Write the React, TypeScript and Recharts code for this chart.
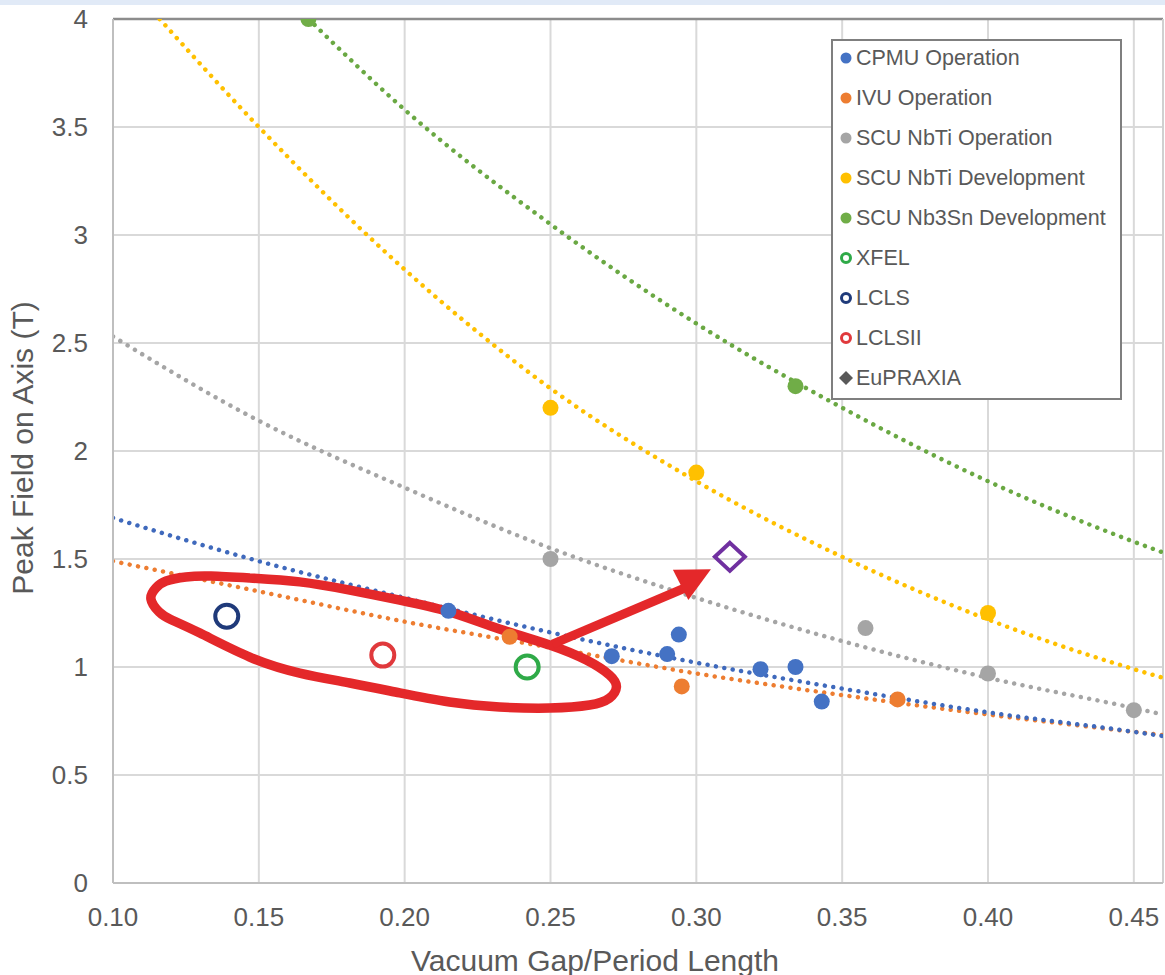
import {
  ComposedChart, Line, Scatter, XAxis, YAxis, CartesianGrid,
  ReferenceLine, ReferenceDot, Legend, Label,
} from 'recharts';

const FONT = '"Liberation Sans", Arial, Helvetica, sans-serif';
const TEXT = '#595959';
const RED = '#E4282A';

const xTicks = [0.1, 0.15, 0.2, 0.25, 0.3, 0.35, 0.4, 0.45];
const yTicks = [0, 0.5, 1, 1.5, 2, 2.5, 3, 3.5, 4];

// measured points
const cpmuPoints = [
  { x: 0.215, y: 1.26 }, { x: 0.271, y: 1.05 }, { x: 0.29, y: 1.06 },
  { x: 0.294, y: 1.15 }, { x: 0.322, y: 0.99 }, { x: 0.334, y: 1.0 },
  { x: 0.343, y: 0.84 },
];
const ivuPoints = [{ x: 0.236, y: 1.14 }, { x: 0.295, y: 0.91 }, { x: 0.369, y: 0.85 }];
const nbtiOpPoints = [{ x: 0.25, y: 1.5 }, { x: 0.358, y: 1.18 }, { x: 0.4, y: 0.97 }, { x: 0.45, y: 0.8 }];
const nbtiDevPoints = [{ x: 0.25, y: 2.2 }, { x: 0.3, y: 1.9 }, { x: 0.4, y: 1.25 }];
const nb3snPoints = [{ x: 0.167, y: 4.0 }, { x: 0.334, y: 2.3 }];
const xfelPoints = [{ x: 0.242, y: 1.0 }];
const lclsPoints = [{ x: 0.139, y: 1.235 }];
const lcls2Points = [{ x: 0.1925, y: 1.055 }];
const eupraxiaPoints = [{ x: 0.3115, y: 1.51 }];

// trendlines
const trendX = [0.1, 0.15, 0.2, 0.25, 0.3, 0.35, 0.4, 0.45, 0.46];
const cpmuTrend = [1.69, 1.49, 1.32, 1.16, 1.02, 0.9, 0.79, 0.7, 0.68];
const ivuTrend = [1.49, 1.35, 1.21, 1.09, 0.97, 0.87, 0.78, 0.7, 0.685];
const nbtiOpTrend = [2.53, 2.14, 1.83, 1.55, 1.32, 1.12, 0.95, 0.81, 0.78];
const nbtiDevX = [0.116, 0.15, 0.2, 0.25, 0.3, 0.35, 0.4, 0.45, 0.46];
const nbtiDevTrend = [4.0, 3.5, 2.84, 2.29, 1.86, 1.51, 1.22, 0.99, 0.95];
const nb3snX = [0.167, 0.2, 0.25, 0.3, 0.35, 0.4, 0.45, 0.46];
const nb3snTrend = [4.0, 3.58, 3.05, 2.59, 2.2, 1.86, 1.58, 1.53];

// hand-drawn annotation
const loopX = [0.1469, 0.164, 0.1812, 0.1983, 0.2154, 0.2325, 0.2497, 0.2623, 0.2702, 0.2726, 0.2702, 0.2634,
  0.2497, 0.2325, 0.2154, 0.1983, 0.1812, 0.164, 0.1469, 0.1298, 0.1198, 0.1158, 0.1130, 0.1147, 0.1182, 0.1250, 0.1336, 0.1469];
const loopY = [1.412, 1.394, 1.356, 1.31, 1.255, 1.176, 1.102, 1.032, 0.963, 0.907, 0.856, 0.824,
  0.81, 0.815, 0.838, 0.88, 0.926, 0.972, 1.046, 1.157, 1.22, 1.255, 1.315, 1.366, 1.398, 1.417, 1.421, 1.412];
const arrowShaft = [{ x: 0.2507, y: 1.106 }, { x: 0.2965, y: 1.368 }];
const arrowTip = { x: 0.3050, y: 1.452 };

const legendItems = [
  { name: 'CPMU Operation', color: '#4472C4', kind: 'dot' },
  { name: 'IVU Operation', color: '#ED7D31', kind: 'dot' },
  { name: 'SCU NbTi Operation', color: '#A5A5A5', kind: 'dot' },
  { name: 'SCU NbTi Development', color: '#FFC000', kind: 'dot' },
  { name: 'SCU Nb3Sn Development', color: '#70AD47', kind: 'dot' },
  { name: 'XFEL', color: '#2FAA48', kind: 'ring' },
  { name: 'LCLS', color: '#1F3A7A', kind: 'ring' },
  { name: 'LCLSII', color: '#E0393C', kind: 'ring' },
  { name: 'EuPRAXIA', color: '#595959', kind: 'diamond' },
];

const toPts = (xs: number[], ys: number[]) => xs.map((x, i) => ({ x, y: ys[i] }));

const dotShape = (color: string) => (p: any) => <circle cx={p.cx} cy={p.cy} r={8} fill={color} />;
const ringShape = (color: string) => (p: any) => (
  <circle cx={p.cx} cy={p.cy} r={11.5} fill="none" stroke={color} strokeWidth={4} />
);
const diamondShape = (p: any) => (
  <polygon
    points={`${p.cx},${p.cy - 14} ${p.cx + 15},${p.cy} ${p.cx},${p.cy + 14} ${p.cx - 15},${p.cy}`}
    fill="none" stroke="#7030A0" strokeWidth={4}
  />
);

const trendProps = {
  type: 'monotone' as const,
  dataKey: 'y',
  dot: false,
  activeDot: false,
  strokeWidth: 4.5,
  strokeDasharray: '0.01 8.5',
  strokeLinecap: 'round' as const,
  isAnimationActive: false,
  legendType: 'none' as const,
};

function LegendBox() {
  return (
    <svg width={291} height={361} style={{ display: 'block' }}>
      <rect x={1} y={1} width={289} height={359} fill="#fff" stroke="#7F7F7F" strokeWidth={2} />
      {legendItems.map((it, i) => {
        const cy = 19 + 40 * i;
        let mark;
        if (it.kind === 'dot') mark = <circle cx={15} cy={cy} r={5.5} fill={it.color} />;
        else if (it.kind === 'ring') mark = <circle cx={15} cy={cy} r={4.5} fill="#fff" stroke={it.color} strokeWidth={3} />;
        else mark = <polygon points={`15,${cy - 7} 22,${cy} 15,${cy + 7} 8,${cy}`} fill={it.color} />;
        return (
          <g key={it.name}>
            {mark}
            <text x={25} y={cy} dominantBaseline="central" fill={TEXT} fontSize={21.5} fontFamily={FONT}>
              {it.name}
            </text>
          </g>
        );
      })}
    </svg>
  );
}

export default function App() {
  const tick = { fill: TEXT, fontSize: 26, fontFamily: FONT };
  return (
    <div style={{ position: 'relative', width: 1165, height: 975, background: '#fff' }}>
      <style>{'body{margin:0;}'}</style>
      <div style={{ position: 'absolute', left: 0, top: 0, width: 1165, height: 5, background: '#E1EAF7', zIndex: 2 }} />
      <ComposedChart width={1165} height={975} margin={{ top: 19, right: 2, bottom: 0, left: 0 }}>
        <CartesianGrid stroke="#D9D9D9" strokeWidth={2} />
        <XAxis
          type="number"
          dataKey="x"
          domain={[0.1, 0.46]}
          ticks={xTicks}
          allowDataOverflow
          height={92}
          tick={tick}
          tickFormatter={(v) => Number(v).toFixed(2)}
          tickLine={false}
          tickSize={0}
          tickMargin={25}
          axisLine={{ stroke: '#BFBFBF', strokeWidth: 2 }}
        >
          <Label
            content={(p: any) => (
              <text
                x={p.viewBox.x + 482}
                y={p.viewBox.y + 77}
                textAnchor="middle"
                dominantBaseline="central"
                fill={TEXT}
                fontSize={30}
                fontFamily={FONT}
              >
                Vacuum Gap/Period Length
              </text>
            )}
          />
        </XAxis>
        <YAxis
          type="number"
          dataKey="y"
          domain={[0, 4]}
          ticks={yTicks}
          allowDataOverflow
          width={113}
          tick={tick}
          tickLine={false}
          tickSize={0}
          tickMargin={25}
          axisLine={{ stroke: '#BFBFBF', strokeWidth: 2 }}
        >
          <Label
            content={(p: any) => {
              const cx = p.viewBox.x + 22;
              const cy = p.viewBox.y + p.viewBox.height / 2 - 3;
              return (
                <text
                  x={cx}
                  y={cy}
                  transform={`rotate(-90 ${cx} ${cy})`}
                  textAnchor="middle"
                  dominantBaseline="central"
                  fill={TEXT}
                  fontSize={30}
                  fontFamily={FONT}
                >
                  Peak Field on Axis (T)
                </text>
              );
            }}
          />
        </YAxis>
        <ReferenceLine y={4} stroke="#8C8C8C" strokeWidth={2.5} ifOverflow="visible" />
        <ReferenceLine x={0.46} stroke="#D0D0D0" strokeWidth={2} ifOverflow="visible" />

        <Line {...trendProps} data={toPts(nb3snX, nb3snTrend)} stroke="#6AA843" />
        <Line {...trendProps} data={toPts(nbtiDevX, nbtiDevTrend)} stroke="#FFC000" />
        <Line {...trendProps} data={toPts(trendX, nbtiOpTrend)} stroke="#A5A5A5" />
        <Line {...trendProps} data={toPts(trendX, ivuTrend)} stroke="#ED7D31" />
        <Line {...trendProps} data={toPts(trendX, cpmuTrend)} stroke="#3F69BC" />

        <Scatter name="CPMU Operation" data={cpmuPoints} fill="#4472C4" shape={dotShape('#4472C4')} isAnimationActive={false} />
        <Scatter name="IVU Operation" data={ivuPoints} fill="#ED7D31" shape={dotShape('#ED7D31')} isAnimationActive={false} />
        <Scatter name="SCU NbTi Operation" data={nbtiOpPoints} fill="#A5A5A5" shape={dotShape('#A5A5A5')} isAnimationActive={false} />
        <Scatter name="SCU NbTi Development" data={nbtiDevPoints} fill="#FFC000" shape={dotShape('#FFC000')} isAnimationActive={false} />
        <Scatter name="SCU Nb3Sn Development" data={nb3snPoints} fill="#70AD47" shape={dotShape('#70AD47')} isAnimationActive={false} />
        <Scatter name="XFEL" data={xfelPoints} fill="#2FAA48" shape={ringShape('#2FAA48')} isAnimationActive={false} />
        <Scatter name="LCLS" data={lclsPoints} fill="#1F3A7A" shape={ringShape('#1F3A7A')} isAnimationActive={false} />
        <Scatter name="LCLSII" data={lcls2Points} fill="#E0393C" shape={ringShape('#E0393C')} isAnimationActive={false} />
        <Scatter name="EuPRAXIA" data={eupraxiaPoints} fill="#7030A0" shape={diamondShape} isAnimationActive={false} />

        <Line
          data={toPts(loopX, loopY)}
          dataKey="y"
          type="natural"
          stroke={RED}
          strokeWidth={9.5}
          strokeLinejoin="round"
          dot={false}
          activeDot={false}
          legendType="none"
          isAnimationActive={false}
        />
        <Line
          data={arrowShaft}
          dataKey="y"
          type="linear"
          stroke={RED}
          strokeWidth={9}
          dot={false}
          activeDot={false}
          legendType="none"
          isAnimationActive={false}
        />
        <ReferenceDot
          x={arrowTip.x}
          y={arrowTip.y}
          ifOverflow="visible"
          shape={(p: any) => (
            <polygon
              points="0,0 -34,-17 -34,17"
              transform={`translate(${p.cx},${p.cy}) rotate(-27)`}
              fill={RED}
            />
          )}
        />

        <Legend
          layout="vertical"
          align="center"
          verticalAlign="middle"
          content={() => <LegendBox />}
          wrapperStyle={{ left: 831, top: 39, width: 291, height: 361, margin: 0 }}
        />
      </ComposedChart>
    </div>
  );
}
